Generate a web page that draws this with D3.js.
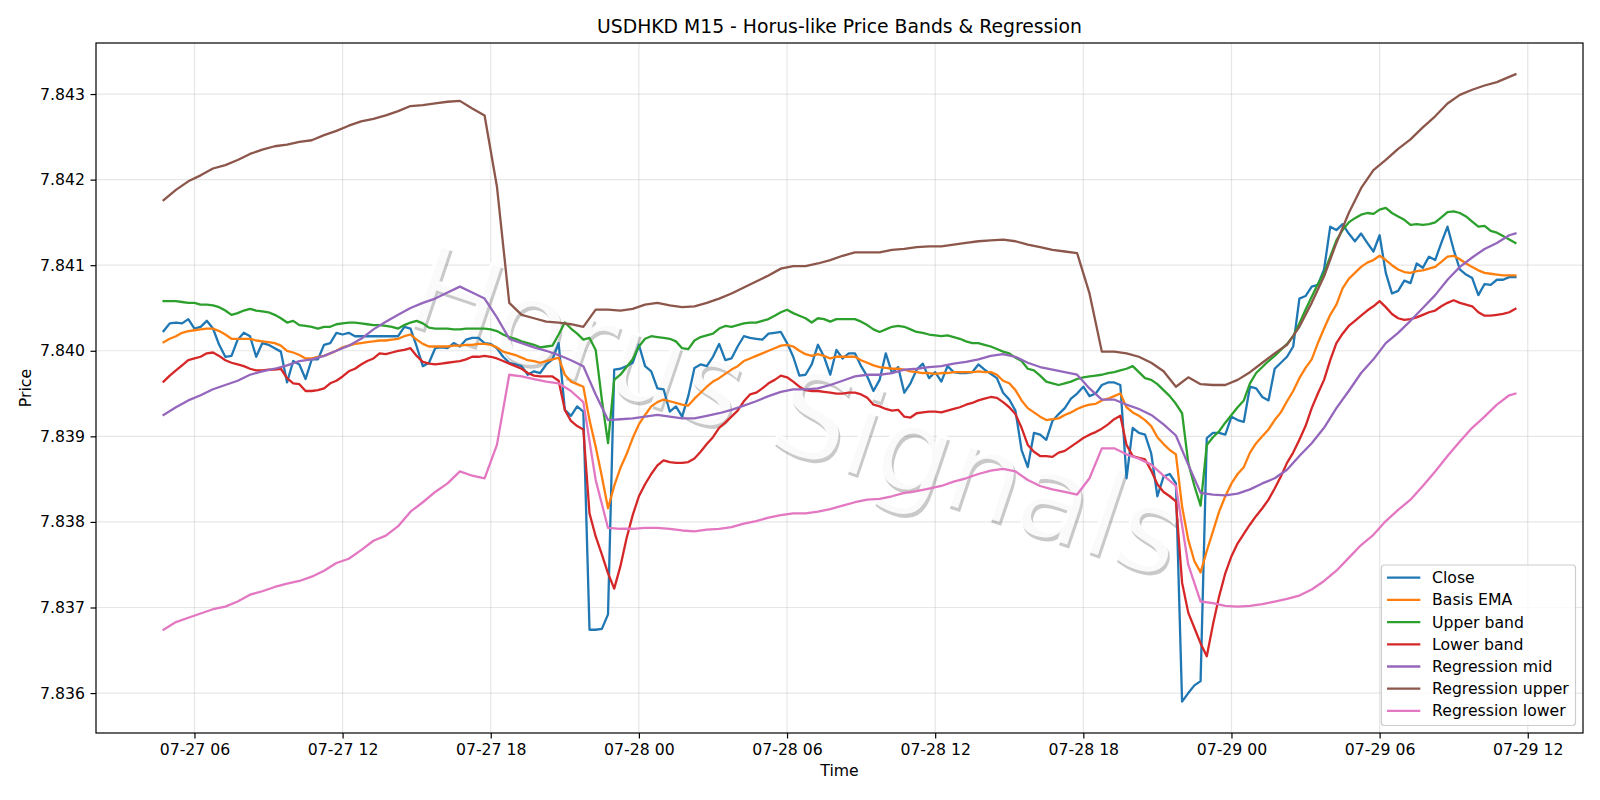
<!DOCTYPE html>
<html><head><meta charset="utf-8">
<script src="https://cdn.jsdelivr.net/npm/d3@7"></script>
<style>
html,body{margin:0;padding:0;background:#fff;}
svg{display:block;font-family:"DejaVu Sans",sans-serif;}
</style></head><body>
<svg id="chart" width="1600" height="800"></svg>
<script>
// ---------------- DATA ----------------
const seriesStart = "2025-07-27T04:45:00Z"; // first M15 bar
const stepMinutes = 15;

const closeVals = [
7.84023,7.84032,7.84033,7.84032,7.84037,7.84026,7.84028,7.84035,7.84026,7.84007,7.83993,7.83994,7.84013,7.84021,7.84017,7.83993,7.84009,7.84007,7.84003,7.83999,7.83963,7.83988,7.83984,7.83967,7.83990,7.83990,7.84007,7.84009,7.84021,7.84019,7.84021,7.84017,7.84017,7.84017,7.84017,7.84017,
7.84017,7.84017,7.84017,7.84028,7.84026,7.84005,7.83982,7.83986,7.84003,7.84004,7.84003,7.84009,7.84005,7.84013,7.84015,7.84015,7.84009,7.84008,7.84003,7.83993,7.83986,7.83984,7.83982,7.83972,7.83976,7.83974,7.83984,7.83990,7.84009,7.83931,7.83924,7.83935,7.83929,7.83674,7.83674,7.83675,7.83692,7.83978,7.83979,7.83982,7.83986,7.84007,7.83982,7.83976,7.83956,
7.83955,7.83929,7.83935,7.83923,7.83947,7.83980,7.83984,7.83982,7.83993,7.84008,7.83989,7.83991,7.84005,7.84017,7.84015,7.84014,7.84013,7.84020,7.84021,7.84022,7.84009,7.83993,7.83971,7.83972,7.83984,7.84007,7.83993,7.83972,7.84001,7.83991,7.83997,7.83997,7.83982,7.83970,7.83953,7.83966,7.83997,7.83974,7.83981,7.83951,7.83962,7.83978,7.83985,7.83968,7.83975,
7.83964,7.83982,7.83975,7.83974,7.83974,7.83975,7.83984,7.83978,7.83973,7.83968,7.83951,7.83943,7.83930,7.83884,7.83864,7.83904,7.83902,7.83896,7.83918,7.83926,7.83933,7.83944,7.83950,7.83958,7.83947,7.83950,7.83960,7.83963,7.83963,7.83960,7.83851,7.83910,7.83904,7.83902,7.83880,7.83830,7.83853,7.83856,7.83845,7.83590,7.83600,7.83609,7.83614,7.83898,7.83904,
7.83904,7.83902,7.83923,7.83919,7.83917,7.83958,7.83956,7.83946,7.83942,7.83979,7.83986,7.83993,7.84005,7.84061,7.84064,7.84075,7.84077,7.84095,7.84145,7.84141,7.84148,7.84137,7.84128,7.84137,7.84126,7.84116,7.84135,7.84091,7.84067,7.84070,7.84082,7.84079,7.84102,7.84097,7.84110,7.84106,7.84126,7.84145,7.84118,7.84095,7.84089,7.84085,7.84065,7.84078,7.84077,7.84083,7.84083,7.84086,7.84086
];

const basisEma = [
7.84010,7.84014,7.84017,7.84021,7.84023,7.84024,7.84025,7.84026,7.84026,7.84023,7.84019,7.84014,7.84014,7.84014,7.84014,7.84012,7.84011,7.84010,7.84009,7.84006,7.84000,7.83998,7.83995,7.83991,7.83991,7.83993,7.83994,7.83997,7.84000,7.84004,7.84006,7.84008,7.84009,7.84010,7.84011,7.84012,
7.84012,7.84013,7.84014,7.84017,7.84019,7.84013,7.84008,7.84005,7.84005,7.84005,7.84005,7.84006,7.84006,7.84007,7.84007,7.84008,7.84008,7.84007,7.84004,7.83999,7.83997,7.83995,7.83992,7.83989,7.83988,7.83986,7.83988,7.83990,7.83992,7.83972,7.83964,7.83961,7.83958,7.83919,7.83888,7.83853,7.83816,7.83842,7.83863,7.83879,7.83898,7.83914,7.83925,7.83935,7.83940,
7.83943,7.83941,7.83939,7.83937,7.83936,7.83944,7.83951,7.83958,7.83964,7.83968,7.83973,7.83978,7.83982,7.83988,7.83991,7.83994,7.83997,7.84000,7.84003,7.84006,7.84007,7.84005,7.84000,7.83996,7.83994,7.83996,7.83994,7.83991,7.83993,7.83993,7.83993,7.83993,7.83989,7.83986,7.83983,7.83981,7.83980,7.83979,7.83979,7.83978,7.83976,7.83975,7.83974,7.83974,7.83973,
7.83974,7.83974,7.83975,7.83975,7.83975,7.83975,7.83976,7.83975,7.83975,7.83972,7.83965,7.83962,7.83954,7.83942,7.83933,7.83928,7.83923,7.83919,7.83920,7.83921,7.83925,7.83928,7.83932,7.83935,7.83937,7.83938,7.83942,7.83944,7.83947,7.83950,7.83934,7.83928,7.83924,7.83919,7.83912,7.83899,7.83891,7.83884,7.83879,7.83818,7.83779,7.83754,7.83741,7.83766,7.83789,
7.83812,7.83830,7.83845,7.83856,7.83864,7.83881,7.83892,7.83900,7.83908,7.83919,7.83928,7.83941,7.83953,7.83968,7.83980,7.83990,7.84009,7.84026,7.84042,7.84054,7.84073,7.84084,7.84091,7.84098,7.84103,7.84106,7.84111,7.84106,7.84100,7.84095,7.84092,7.84091,7.84093,7.84094,7.84096,7.84098,7.84104,7.84110,7.84111,7.84107,7.84102,7.84098,7.84094,7.84091,7.84090,7.84089,7.84088,7.84088,7.84088
];

const upperBand = [
7.84058,7.84058,7.84058,7.84057,7.84056,7.84056,7.84054,7.84054,7.84053,7.84051,7.84047,7.84042,7.84044,7.84047,7.84049,7.84047,7.84046,7.84045,7.84042,7.84038,7.84033,7.84035,7.84030,7.84029,7.84028,7.84026,7.84028,7.84028,7.84031,7.84032,7.84033,7.84033,7.84032,7.84031,7.84030,7.84030,
7.84029,7.84028,7.84026,7.84030,7.84033,7.84035,7.84032,7.84027,7.84026,7.84026,7.84026,7.84025,7.84025,7.84026,7.84026,7.84026,7.84026,7.84025,7.84023,7.84019,7.84016,7.84014,7.84011,7.84009,7.84007,7.84004,7.84005,7.84006,7.84019,7.84033,7.84026,7.84020,7.84013,7.84015,7.84001,7.83943,7.83892,7.83966,7.83972,7.83981,7.83990,7.84005,7.84014,7.84017,7.84016,
7.84015,7.84014,7.84011,7.84003,7.84002,7.84012,7.84016,7.84018,7.84020,7.84026,7.84029,7.84028,7.84030,7.84032,7.84033,7.84033,7.84035,7.84037,7.84041,7.84045,7.84048,7.84044,7.84041,7.84038,7.84033,7.84038,7.84037,7.84034,7.84037,7.84037,7.84037,7.84037,7.84034,7.84030,7.84025,7.84022,7.84025,7.84028,7.84029,7.84028,7.84025,7.84022,7.84021,7.84019,7.84018,
7.84017,7.84018,7.84016,7.84014,7.84011,7.84009,7.84009,7.84007,7.84005,7.84002,7.83999,7.83997,7.83992,7.83988,7.83979,7.83977,7.83971,7.83964,7.83962,7.83960,7.83962,7.83964,7.83967,7.83969,7.83970,7.83971,7.83972,7.83974,7.83975,7.83977,7.83979,7.83982,7.83975,7.83968,7.83966,7.83961,7.83954,7.83947,7.83938,7.83927,7.83869,7.83842,7.83819,7.83890,7.83899,
7.83906,7.83916,7.83925,7.83934,7.83942,7.83962,7.83974,7.83981,7.83988,7.83994,7.84001,7.84008,7.84017,7.84032,7.84048,7.84063,7.84078,7.84091,7.84110,7.84129,7.84141,7.84150,7.84155,7.84159,7.84161,7.84160,7.84165,7.84167,7.84161,7.84157,7.84153,7.84147,7.84148,7.84147,7.84148,7.84150,7.84156,7.84162,7.84163,7.84161,7.84157,7.84151,7.84145,7.84146,7.84140,7.84138,7.84134,7.84130,7.84126
];

const lowerBand = [
7.83964,7.83971,7.83977,7.83983,7.83989,7.83991,7.83993,7.83997,7.83998,7.83994,7.83989,7.83986,7.83984,7.83982,7.83979,7.83977,7.83977,7.83978,7.83978,7.83979,7.83968,7.83962,7.83961,7.83953,7.83953,7.83954,7.83956,7.83962,7.83965,7.83970,7.83976,7.83979,7.83984,7.83988,7.83991,7.83997,
7.83996,7.83998,7.84000,7.84001,7.84003,7.83994,7.83987,7.83985,7.83984,7.83985,7.83986,7.83987,7.83988,7.83990,7.83993,7.83993,7.83994,7.83993,7.83991,7.83988,7.83985,7.83982,7.83979,7.83974,7.83971,7.83970,7.83970,7.83970,7.83965,7.83931,7.83918,7.83912,7.83908,7.83810,7.83783,7.83762,7.83740,7.83722,7.83748,7.83781,7.83808,7.83830,7.83844,7.83856,7.83866,
7.83872,7.83870,7.83869,7.83869,7.83870,7.83874,7.83882,7.83891,7.83899,7.83910,7.83916,7.83923,7.83930,7.83941,7.83949,7.83951,7.83956,7.83962,7.83966,7.83971,7.83969,7.83964,7.83958,7.83954,7.83953,7.83953,7.83952,7.83951,7.83950,7.83950,7.83951,7.83951,7.83949,7.83945,7.83937,7.83935,7.83932,7.83930,7.83931,7.83923,7.83922,7.83927,7.83928,7.83929,7.83929,
7.83928,7.83930,7.83932,7.83934,7.83937,7.83939,7.83942,7.83944,7.83946,7.83945,7.83940,7.83934,7.83926,7.83910,7.83890,7.83882,7.83877,7.83877,7.83876,7.83881,7.83883,7.83888,7.83893,7.83898,7.83902,7.83905,7.83909,7.83914,7.83920,7.83924,7.83890,7.83877,7.83875,7.83873,7.83860,7.83844,7.83835,7.83830,7.83824,7.83729,7.83694,7.83676,7.83658,7.83643,7.83680,
7.83713,7.83740,7.83760,7.83775,7.83786,7.83797,7.83807,7.83816,7.83826,7.83839,7.83853,7.83869,7.83881,7.83896,7.83912,7.83933,7.83950,7.83966,7.83989,7.84009,7.84020,7.84029,7.84035,7.84041,7.84047,7.84052,7.84058,7.84051,7.84043,7.84038,7.84036,7.84037,7.84039,7.84042,7.84045,7.84047,7.84052,7.84056,7.84059,7.84056,7.84054,7.84052,7.84045,7.84041,7.84041,7.84042,7.84043,7.84045,7.84049
];

// regression lines, read every 30 minutes (bars 0,2,4,...,218) plus the last bar 219
const regMid = [
7.83925,7.83934,7.83942,7.83948,7.83955,7.83960,7.83965,7.83972,7.83976,7.83979,7.83983,7.83988,7.83990,7.83994,7.84000,7.84006,7.84014,7.84025,
7.84034,7.84042,7.84050,7.84056,7.84061,7.84068,7.84075,7.84068,7.84061,7.84039,7.84014,7.84009,7.84004,7.84000,7.83995,7.83989,7.83982,7.83949,7.83919,7.83920,7.83921,7.83923,7.83925,
7.83923,7.83921,7.83921,7.83924,7.83927,7.83931,7.83936,7.83941,7.83947,7.83952,7.83955,7.83955,7.83956,7.83960,7.83965,7.83970,7.83972,7.83972,7.83974,7.83978,7.83979,7.83981,
7.83982,7.83985,7.83987,7.83990,7.83994,7.83996,7.83993,7.83986,7.83981,7.83978,7.83975,7.83972,7.83956,7.83943,7.83943,7.83937,7.83932,7.83925,7.83914,7.83901,7.83867,7.83834,7.83832,
7.83831,7.83833,7.83838,7.83845,7.83851,7.83861,7.83877,7.83892,7.83910,7.83933,7.83953,7.83974,7.83990,7.84009,7.84021,7.84035,7.84050,7.84065,7.84083,7.84098,7.84109,7.84119,7.84126,
7.84135,7.84137
];
const regUpper = [
7.84176,7.84188,7.84198,7.84205,7.84213,7.84217,7.84223,7.84230,7.84235,7.84239,7.84241,7.84244,7.84246,7.84252,7.84257,7.84263,7.84268,7.84271,
7.84275,7.84280,7.84286,7.84287,7.84289,7.84291,7.84292,7.84283,7.84275,7.84192,7.84056,7.84042,7.84038,7.84034,7.84033,7.84031,7.84028,7.84048,7.84048,7.84047,7.84049,7.84054,7.84056,
7.84053,7.84051,7.84052,7.84056,7.84061,7.84067,7.84074,7.84081,7.84088,7.84096,7.84099,7.84099,7.84102,7.84106,7.84111,7.84115,7.84115,7.84115,7.84118,7.84119,7.84121,7.84122,
7.84122,7.84124,7.84126,7.84128,7.84129,7.84130,7.84128,7.84124,7.84121,7.84118,7.84116,7.84114,7.84067,7.83999,7.83999,7.83997,7.83993,7.83986,7.83976,7.83958,7.83969,7.83961,7.83960,
7.83960,7.83966,7.83975,7.83986,7.83997,7.84007,7.84028,7.84056,7.84087,7.84126,7.84161,7.84190,7.84211,7.84223,7.84236,7.84247,7.84261,7.84274,7.84289,7.84299,7.84305,7.84310,7.84314,
7.84320,7.84323
];
const regLower = [
7.83674,7.83683,7.83688,7.83693,7.83698,7.83701,7.83707,7.83715,7.83719,7.83724,7.83728,7.83731,7.83736,7.83743,7.83752,7.83757,7.83767,7.83778,
7.83784,7.83795,7.83812,7.83823,7.83835,7.83845,7.83859,7.83854,7.83851,7.83890,7.83972,7.83970,7.83967,7.83964,7.83962,7.83953,7.83940,7.83849,7.83793,7.83792,7.83792,7.83793,7.83793,
7.83792,7.83790,7.83789,7.83791,7.83792,7.83794,7.83798,7.83801,7.83805,7.83808,7.83810,7.83810,7.83812,7.83815,7.83819,7.83823,7.83826,7.83827,7.83830,7.83834,7.83836,7.83839,
7.83842,7.83847,7.83851,7.83856,7.83860,7.83862,7.83859,7.83849,7.83842,7.83838,7.83835,7.83832,7.83851,7.83886,7.83886,7.83879,7.83874,7.83867,7.83854,7.83842,7.83750,7.83707,7.83705,
7.83702,7.83701,7.83702,7.83704,7.83707,7.83710,7.83714,7.83721,7.83731,7.83743,7.83758,7.83773,7.83785,7.83801,7.83814,7.83826,7.83842,7.83859,7.83877,7.83894,7.83910,7.83923,7.83937,
7.83948,7.83950
];

const seriesNames = ["Close","Basis EMA","Upper band","Lower band","Regression mid","Regression upper","Regression lower"];
const seriesColors = ["#1f77b4","#ff7f0e","#2ca02c","#d62728","#9467bd","#8c564b","#e377c2"];
const yTickValues = [7.836,7.837,7.838,7.839,7.840,7.841,7.842,7.843];
const xTickLabels = ["07-27 06","07-27 12","07-27 18","07-28 00","07-28 06","07-28 12","07-28 18","07-29 00","07-29 06","07-29 12"];
const titleText = "USDHKD M15 - Horus-like Price Bands & Regression";
const watermarkText = "Horus Signals";

// ---------------- BUILD ----------------
const t0 = new Date(seriesStart).getTime();
const barTime = i => new Date(t0 + i*stepMinutes*60000);
const m15Times = closeVals.map((_, i) => barTime(i));
const regIdx = d3.range(0, closeVals.length - 1, 2).concat([closeVals.length - 1]);
const regTimes = regIdx.map(barTime);

const allSeries = [
  {vals: closeVals, times: m15Times},
  {vals: basisEma, times: m15Times},
  {vals: upperBand, times: m15Times},
  {vals: lowerBand, times: m15Times},
  {vals: regMid, times: regTimes},
  {vals: regUpper, times: regTimes},
  {vals: regLower, times: regTimes}
].map((s, i) => ({...s, name: seriesNames[i], color: seriesColors[i]}));

const W = 1600, H = 800;
const plot = {left: 96, right: 1583, top: 43, bottom: 733};
const FS = 15.7;      // tick / legend / axis label size
const TFS = 18.8;     // title size
const TICK = 5.5;
const LW = 2.3;

const tExt = d3.extent(m15Times);
const tPad = (tExt[1] - tExt[0]) * 0.05;
const x = d3.scaleUtc()
  .domain([new Date(+tExt[0] - tPad), new Date(+tExt[1] + tPad)])
  .range([plot.left, plot.right]);

const allVals = allSeries.flatMap(s => s.vals);
const vExt = d3.extent(allVals);
const vPad = (vExt[1] - vExt[0]) * 0.05;
const y = d3.scaleLinear().domain([vExt[0] - vPad, vExt[1] + vPad]).range([plot.bottom, plot.top]);

const svg = d3.select("#chart");
svg.append("rect").attr("width", W).attr("height", H).attr("fill", "#fff");

const xTickDates = x.ticks(d3.utcHour.every(6));
const fmtX = d3.utcFormat("%m-%d %H");

// grid
const grid = svg.append("g");
grid.selectAll("line.vx").data(xTickDates).join("line")
  .attr("x1", d => x(d)).attr("x2", d => x(d)).attr("y1", plot.top).attr("y2", plot.bottom)
  .attr("stroke", "#b0b0b0").attr("stroke-opacity", 0.3).attr("stroke-width", 1.2);
grid.selectAll("line.hy").data(yTickValues).join("line")
  .attr("y1", d => y(d)).attr("y2", d => y(d)).attr("x1", plot.left).attr("x2", plot.right)
  .attr("stroke", "#b0b0b0").attr("stroke-opacity", 0.3).attr("stroke-width", 1.2);

// watermark (beneath the lines)
const wm = svg.append("g").attr("transform", "translate(797,411) rotate(18.5)");
wm.append("text").attr("x", 3).attr("y", 3)
  .attr("text-anchor", "middle").attr("dominant-baseline", "central")
  .attr("font-size", 118).attr("fill", "#4d4d4d").attr("fill-opacity", 0.3)
  .text(watermarkText);
wm.append("text")
  .attr("text-anchor", "middle").attr("dominant-baseline", "central")
  .attr("font-size", 118).attr("fill", "#ffffff").attr("fill-opacity", 0.9)
  .text(watermarkText);

// lines
const line = d3.line().x(d => x(d[0])).y(d => y(d[1]));
svg.append("g").selectAll("path").data(allSeries).join("path")
  .attr("d", s => line(s.times.map((t, i) => [t, s.vals[i]])))
  .attr("fill", "none").attr("stroke", s => s.color).attr("stroke-width", LW)
  .attr("stroke-linejoin", "round").attr("stroke-linecap", "square");

// axes
const xAxis = d3.axisBottom(x).tickValues(xTickDates).tickFormat((d, i) => xTickLabels[i] ?? fmtX(d))
  .tickSizeInner(TICK).tickSizeOuter(0).tickPadding(TICK);
const yAxis = d3.axisLeft(y).tickValues(yTickValues).tickFormat(d3.format(".3f"))
  .tickSizeInner(TICK).tickSizeOuter(0).tickPadding(TICK);
const gx = svg.append("g").attr("transform", `translate(0,${plot.bottom})`).call(xAxis);
const gy = svg.append("g").attr("transform", `translate(${plot.left},0)`).call(yAxis);
[gx, gy].forEach(g => {
  g.select(".domain").remove();
  g.selectAll(".tick line").attr("stroke", "#000").attr("stroke-width", 1.2);
  g.selectAll(".tick text").attr("font-family", "DejaVu Sans").attr("font-size", FS).attr("fill", "#000");
});

// spines
svg.append("rect").attr("x", plot.left).attr("y", plot.top)
  .attr("width", plot.right - plot.left).attr("height", plot.bottom - plot.top)
  .attr("fill", "none").attr("stroke", "#000").attr("stroke-width", 1.2);

// labels
svg.append("text").attr("x", (plot.left + plot.right) / 2).attr("y", 32.5)
  .attr("text-anchor", "middle").attr("font-size", TFS).attr("fill", "#000").text(titleText);
svg.append("text").attr("x", (plot.left + plot.right) / 2).attr("y", 776)
  .attr("text-anchor", "middle").attr("font-size", FS).attr("fill", "#000").text("Time");
svg.append("text").attr("transform", `translate(31,${(plot.top + plot.bottom) / 2}) rotate(-90)`)
  .attr("text-anchor", "middle").attr("font-size", FS).attr("fill", "#000").text("Price");

// legend
const lg = svg.append("g");
const lgRight = 1575.5, lgBottom = 725.5, rowH = 22.2;
const lgBox = lg.append("rect");
const items = lg.selectAll("g.item").data(allSeries).join("g");
let maxW = 0;
items.each(function(s) {
  const t = d3.select(this).append("text").attr("font-size", FS).attr("fill", "#000").text(s.name);
  maxW = Math.max(maxW, t.node().getComputedTextLength());
});
const lgW = 5.7 + 33.3 + 11.7 + maxW + 6.7;
const lgH = 160.5;
const lgLeft = lgRight - lgW, lgTop = lgBottom - lgH;
lgBox.attr("x", lgLeft).attr("y", lgTop).attr("width", lgW).attr("height", lgH)
  .attr("rx", 3).attr("fill", "#fff").attr("fill-opacity", 0.8).attr("stroke", "#cccccc").attr("stroke-width", 1.2);
items.each(function(s, i) {
  const cy = lgTop + 12.7 + i * rowH;
  const g = d3.select(this);
  g.append("line").attr("x1", lgLeft + 5.7).attr("x2", lgLeft + 39).attr("y1", cy).attr("y2", cy)
    .attr("stroke", s.color).attr("stroke-width", LW);
  g.select("text").attr("x", lgLeft + 50.7).attr("y", cy).attr("dominant-baseline", "central");
});
</script>
</body></html>
